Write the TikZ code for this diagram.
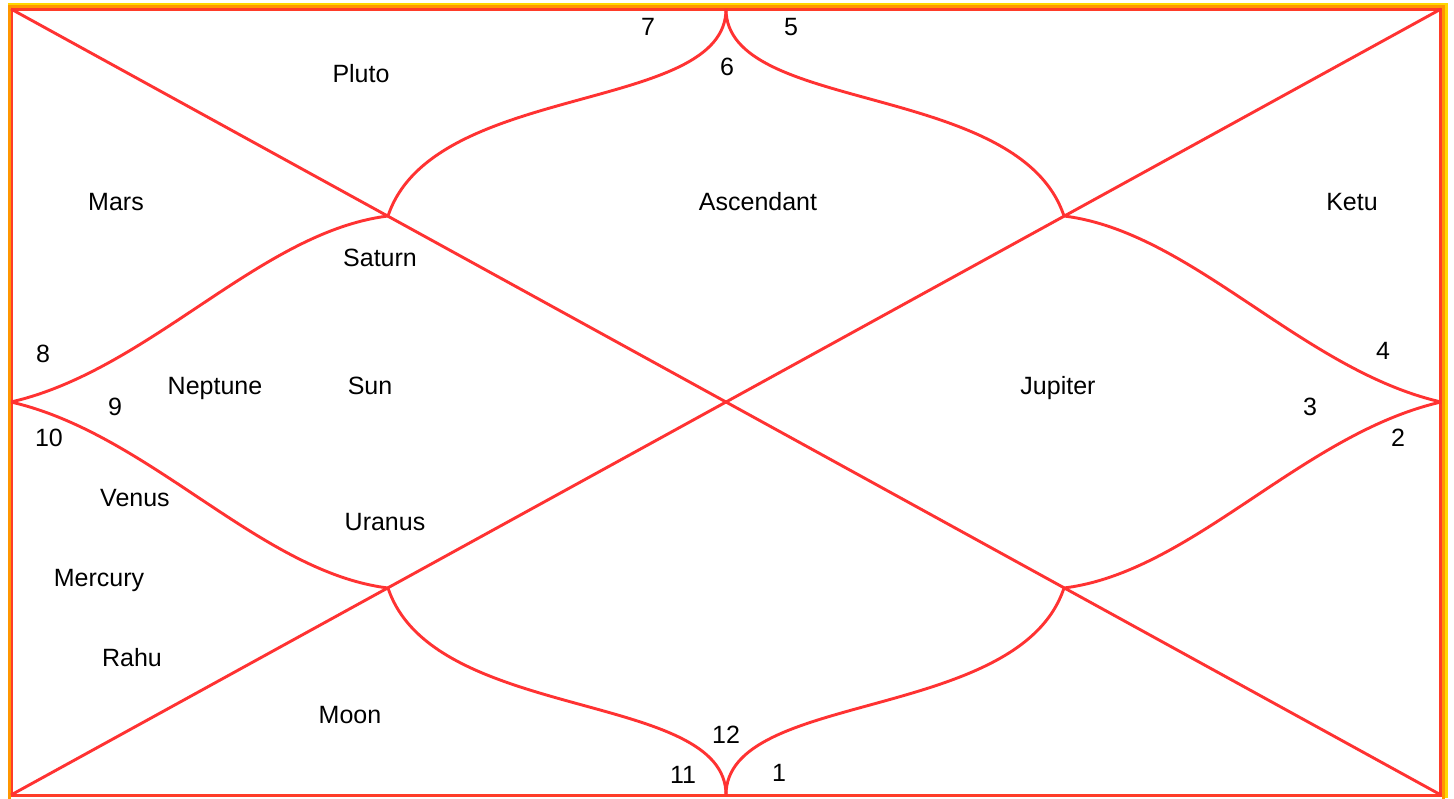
\documentclass[tikz,border=0pt]{standalone}
\usepackage{fontspec}
\setmainfont{Liberation Sans}
\definecolor{chartred}{RGB}{255,50,50}
\definecolor{frameorange}{RGB}{255,150,0}
\definecolor{framegold}{RGB}{255,215,0}
\definecolor{framered}{RGB}{255,60,40}
\begin{document}
\begin{tikzpicture}[x=1pt,y=-1pt,
  chartline/.style={draw=chartred,line width=2.9pt},
  lbl/.style={inner sep=0pt,text height=0.72em,text depth=0pt,yshift=-5pt,font=\fontsize{25}{29}\selectfont}]
\useasboundingbox (0,0) rectangle (1454,798);
\fill[white] (0,0) rectangle (1454,798);
% frame
\draw[framegold,line width=3pt] (8,4.5) -- (1446.5,4.5) -- (1446.5,798);
\draw[frameorange,line width=3pt] (9.5,6.5) rectangle (1443.5,800);
\draw[framered,line width=2.5pt] (12,9.5) rectangle (1440.5,795.5);
% key points
\coordinate (TL) at (11,9);
\coordinate (TR) at (1441,9);
\coordinate (BL) at (11,795);
\coordinate (BR) at (1441,795);
\coordinate (T) at (726,9);
\coordinate (B) at (726,795);
\coordinate (L) at (11,402);
\coordinate (R) at (1441,402);
\coordinate (QTL) at (388,216);
\coordinate (QTR) at (1064,216);
\coordinate (QBL) at (388,588);
\coordinate (QBR) at (1064,588);
% diagonals
\draw[chartline] (TL) -- (BR);
\draw[chartline] (BL) -- (TR);
% curves
\draw[chartline] (T) .. controls +(0,105) and +(45,-135) .. (QTL);
\draw[chartline] (T) .. controls +(0,105) and +(-45,-135) .. (QTR);
\draw[chartline] (B) .. controls +(0,-105) and +(45,135) .. (QBL);
\draw[chartline] (B) .. controls +(0,-105) and +(-45,135) .. (QBR);
\draw[chartline] (L) .. controls +(139,-32) and +(-128,16) .. (QTL);
\draw[chartline] (L) .. controls +(139,32) and +(-128,-16) .. (QBL);
\draw[chartline] (R) .. controls +(-139,-32) and +(128,16) .. (QTR);
\draw[chartline] (R) .. controls +(-139,32) and +(128,-16) .. (QBR);
% labels
\node[lbl] (pluto) at (361,74) {Pluto};
\node[lbl] (mars) at (116,202) {Mars};
\node[lbl] (asc) at (758,202) {Ascendant};
\node[lbl] (ketu) at (1352,202) {Ketu};
\node[lbl] (saturn) at (380,258) {Saturn};
\node[lbl] (h8) at (43,354) {8};
\node[lbl] (h4) at (1383,351) {4};
\node[lbl] (neptune) at (215,386) {Neptune};
\node[lbl] (sun) at (370,386) {Sun};
\node[lbl] (jupiter) at (1058,386) {Jupiter};
\node[lbl] (h9) at (115,407) {9};
\node[lbl] (h3) at (1310,407) {3};
\node[lbl] (h10) at (49,438) {10};
\node[lbl] (h2) at (1398,438) {2};
\node[lbl] (venus) at (135,498) {Venus};
\node[lbl] (uranus) at (385,522) {Uranus};
\node[lbl] (mercury) at (99,578) {Mercury};
\node[lbl] (rahu) at (132,658) {Rahu};
\node[lbl] (moon) at (350,715) {Moon};
\node[lbl] (h12) at (726,735) {12};
\node[lbl] (h11) at (683,775) {11};
\node[lbl] (h1) at (779,773) {1};
\node[lbl] (h7) at (648,27) {7};
\node[lbl] (h5) at (791,27) {5};
\node[lbl] (h6) at (727,67) {6};
\end{tikzpicture}
\end{document}
